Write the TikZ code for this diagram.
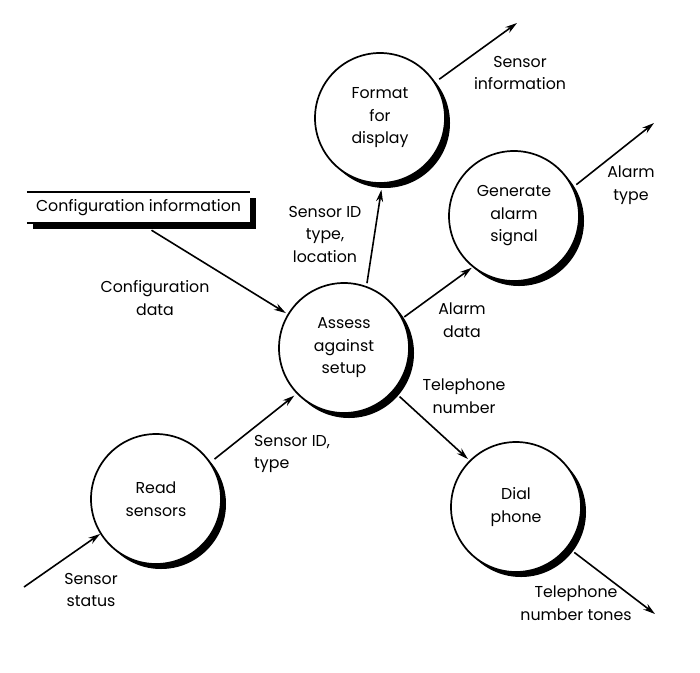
\documentclass[tikz,border=0pt]{standalone}
\usepackage{fontspec}
\setmainfont{Poppins}
\usetikzlibrary{arrows.meta,shadows}
\begin{document}
\begin{tikzpicture}[x=1pt,y=-1pt,
  txt/.style={font=\fontsize{15.8}{22.5}\selectfont},
  proc/.style={txt,circle,draw=black,line width=1.7pt,fill=white,minimum size=130pt,inner sep=0pt,align=center,
    drop shadow={opacity=1,fill=black,draw=none,shadow xshift=5pt,shadow yshift=-5pt,shadow scale=1}},
  store/.style={txt,fill=white,minimum width=223pt,minimum height=31pt,inner sep=0pt,
    drop shadow={opacity=1,fill=black,draw=none,shadow xshift=6pt,shadow yshift=-6pt,shadow scale=1}},
  lbl/.style={txt,align=center,inner sep=0pt},
  flow/.style={line width=1.6pt,-{Stealth[length=12pt,width=7pt]}},
]
\useasboundingbox[fill=white] (0,0) rectangle (700,672);

\node[proc] (format) at (380,118) {Format\\for\\display};
\node[proc] (gen) at (514,216) {Generate\\alarm\\signal};
\node[proc] (assess) at (344,348) {Assess\\against\\setup};
\node[proc] (read) at (156,499) {Read\\sensors};
\node[proc] (dial) at (516,507) {Dial\\phone};

\node[store] (cfg) at (138.5,207.5) {Configuration information};
\draw[line width=1.6pt] (cfg.north west) -- (cfg.north east);
\draw[line width=1.6pt] (cfg.south west) -- (cfg.south east);

\coordinate (ssin) at (24,587);
\coordinate (fout) at (517,23);
\coordinate (gout) at (654,123);
\coordinate (dout) at (655,614);

\draw[flow,shorten >=2pt] ([xshift=13pt,yshift=-7pt]cfg.south) -- (assess.149.8);
\draw[flow] (ssin) -- (read.-148.2);
\draw[flow,shorten <=5pt,shorten >=3pt] (read.34) -- (assess.-136.6);
\draw[flow,shorten <=3pt,shorten >=6pt] (assess.70.5) -- (format.-88.4);
\draw[flow,shorten <=2pt,shorten >=1pt] (assess.27) -- (gen.-129.3);
\draw[flow,shorten <=8pt,shorten >=2pt] (assess.-41.9) -- (dial.135);
\draw[flow,shorten <=5pt] (format.33.5) -- (fout);
\draw[flow,shorten <=4pt] (gen.26.2) -- (gout);
\draw[flow,shorten <=8pt] (dial.-38) -- (dout);

\node[lbl] (l1) at (520,73) {Sensor\\information};
\node[lbl] (l2) at (631,185) {Alarm\\type};
\node[lbl] (l3) at (325,234) {Sensor ID\\type,\\location};
\node[lbl] (l4) at (155,298) {Configuration\\data};
\node[lbl] (l5) at (462,320) {Alarm\\data};
\node[lbl] (l6) at (464,396) {Telephone\\number};
\node[lbl,align=left,anchor=west] (l7) at (254,454) {Sensor ID,\\type};
\node[lbl] (l8) at (91,590) {Sensor\\status};
\node[lbl] (l9) at (576,603) {Telephone\\number tones};
\end{tikzpicture}
\end{document}
